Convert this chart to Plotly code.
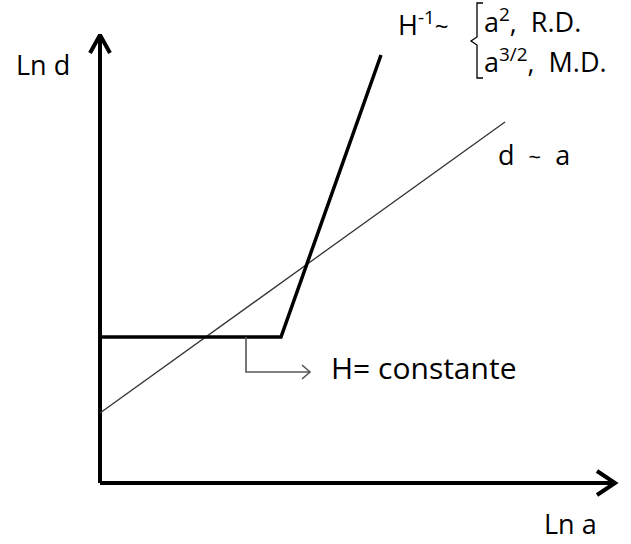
import plotly.graph_objects as go

# Schematic in (Ln a, Ln d) units; origin at the corner of the axes.
axis_len_x = 515
axis_len_y = 448

# Bold curve: H constant, then H^-1 growing with a
bold_lna = [0, 181, 281]
bold_lnd = [146, 146, 428]

# Thin reference line: d ~ a
thin_lna = [0, 405]
thin_lnd = [70, 361]

# Callout pointing from the plateau to its label
call_lna = [146, 146, 210]
call_lnd = [146, 111, 111]

FONT = "Open Sans"
fig = go.Figure()

def line(x, y, w, c="black"):
    fig.add_trace(go.Scatter(x=x, y=y, mode="lines", hoverinfo="skip",
                             line=dict(color=c, width=w), showlegend=False))

# axes with open arrowheads
line([0, 0], [0, axis_len_y], 4)
line([-10, 0, 10], [axis_len_y - 18, axis_len_y, axis_len_y - 18], 4)
line([0, axis_len_x], [0, 0], 4)
line([axis_len_x - 18, axis_len_x, axis_len_x - 18], [12, 0, -12], 4)

line(thin_lna, thin_lnd, 1.3, "#333")
line(bold_lna, bold_lnd, 3.5)
line(call_lna, call_lnd, 1.6, "#555")
line([call_lna[-1] - 8, call_lna[-1], call_lna[-1] - 8],
     [call_lnd[-1] + 7, call_lnd[-1], call_lnd[-1] - 7], 1.6, "#555")

def text(x, y, s, size=26):
    fig.add_annotation(x=x, y=y, xref="x", yref="y", text=s, showarrow=False,
                       xanchor="left", yanchor="middle",
                       font=dict(family=FONT, size=size, color="black"))

text(-86, 419, "Ln d", 27)
text(442, -40, "Ln a", 27)
text(229, 116, "H= constante", 30)
text(396, 329, "d  <span style='font-size:22px'>~</span>  a", 27)
text(296, 460, "H<sup>-1</sup><span style='font-size:24px'>~</span>", 27)
text(382, 463, "a<sup>2</sup>,  R.D.", 27)
text(382, 423, "a<sup>3/2</sup>,  M.D.", 27)

# brace joining the two regimes
fig.add_shape(type="path", xref="x", yref="y",
              path="M 383 480 L 377 480 L 377 446 L 371 442 L 377 438 L 377 405 L 383 405",
              line=dict(color="black", width=1.3))

fig.update_xaxes(range=[-100, 531], visible=False, fixedrange=True)
fig.update_yaxes(range=[-61, 483], visible=False, fixedrange=True)
fig.update_layout(width=631, height=544, margin=dict(l=0, r=0, t=0, b=0),
                  plot_bgcolor="white", paper_bgcolor="white")
fig.write_html("out.html")
